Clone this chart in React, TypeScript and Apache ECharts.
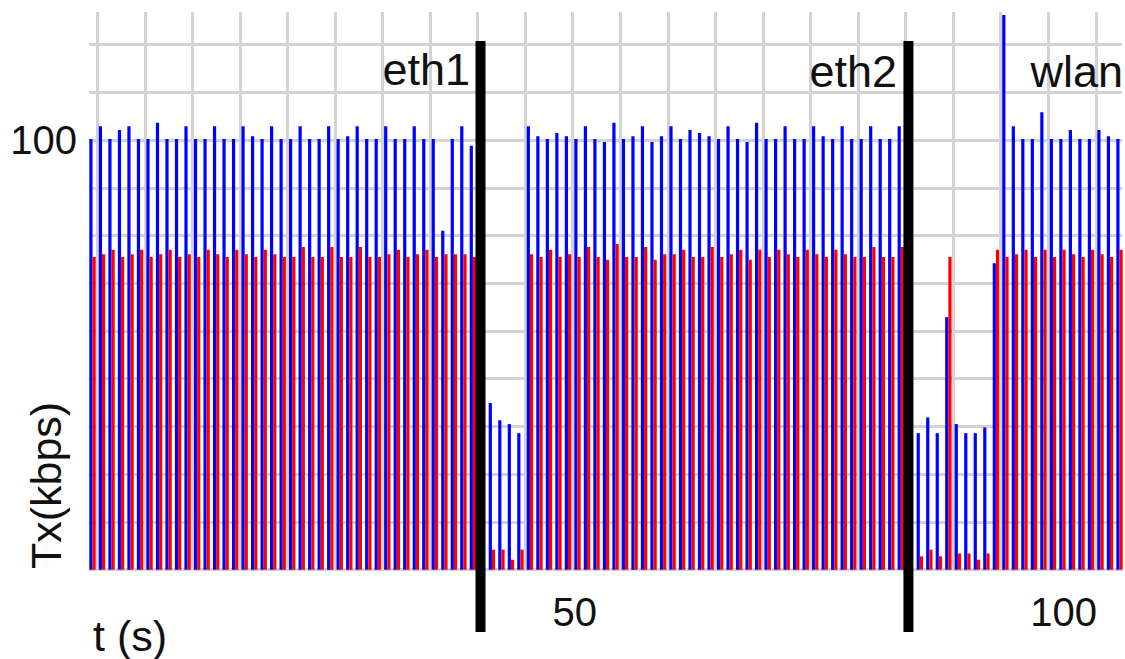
import React, { useEffect, useRef } from 'react';
import * as echarts from 'echarts';

// time (s) of each sample
const TIMES = [
  -0.5, 0.5, 1.5, 2.5, 3.5, 4.5, 5.5, 6.5, 7.5, 8.5, 9.5, 10.5, 11.5, 12.5, 13.5, 14.5, 15.5, 16.5, 17.5, 18.5,
  19.5, 20.5, 21.5, 22.5, 23.5, 24.5, 25.5, 26.5, 27.5, 28.5, 29.5, 30.5, 31.5, 32.5, 33.5, 34.5, 35.5, 36.5, 37.5, 38.5,
  39.5, 41.5, 42.5, 43.5, 44.5, 45.5, 46.5, 47.5, 48.5, 49.5, 50.5, 51.5, 52.5, 53.5, 54.5, 55.5, 56.5, 57.5, 58.5, 59.5,
  60.5, 61.5, 62.5, 63.5, 64.5, 65.5, 66.5, 67.5, 68.5, 69.5, 70.5, 71.5, 72.5, 73.5, 74.5, 75.5, 76.5, 77.5, 78.5, 79.5,
  80.5, 81.5, 82.5, 83.5, 84.5, 86.5, 87.5, 88.5, 89.5, 90.5, 91.5, 92.5, 93.5, 94.5, 95.5, 96.5, 97.5, 98.5, 99.5, 100.5,
  101.5, 102.5, 103.5, 104.5, 105.5, 106.5, 107.5,
];

// blue series (kbps)
const TX_BLUE = [
  100.2, 102.9, 100.2, 102.1, 102.9, 100.2, 100.2, 103.6, 100.2, 100.2, 102.9, 100.2, 100.2, 102.9, 100.2, 100.2, 102.9, 100.8, 100.2, 102.9,
  100.2, 100.2, 102.9, 100.2, 100.2, 102.9, 100.2, 100.8, 102.9, 100.2, 100.2, 102.9, 100.2, 100.2, 102.9, 100.2, 100.2, 81.0, 100.2, 102.9,
  98.8, 44.9, 41.3, 40.5, 38.6, 102.9, 100.8, 100.2, 101.5, 100.8, 100.2, 102.9, 100.2, 99.6, 103.6, 100.2, 100.8, 102.9, 99.6, 100.8,
  102.9, 100.2, 102.1, 101.5, 100.8, 100.2, 102.9, 100.2, 99.6, 103.6, 100.2, 100.2, 102.9, 100.2, 100.2, 102.9, 100.8, 100.2, 102.9, 100.2,
  100.2, 102.9, 100.2, 100.2, 102.9, 38.6, 41.9, 38.6, 62.9, 40.5, 38.6, 38.6, 39.8, 74.2, 126.2, 102.9, 100.2, 100.2, 105.8, 100.2,
  100.2, 102.1, 100.2, 100.2, 102.1, 100.8, 100.2,
];

// red series (kbps)
const TX_RED = [
  75.5, 76.1, 77.0, 75.5, 76.1, 77.0, 75.5, 76.1, 77.0, 75.5, 76.1, 75.5, 77.0, 76.1, 75.5, 77.0, 76.1, 75.5, 77.0, 76.1,
  75.5, 75.5, 77.6, 75.5, 75.5, 77.6, 75.5, 75.5, 77.6, 75.5, 75.5, 76.1, 77.0, 75.5, 76.1, 77.0, 75.5, 76.1, 76.1, 76.1,
  75.5, 14.2, 14.2, 12.1, 14.2, 76.1, 75.5, 77.0, 75.5, 76.1, 75.5, 77.6, 75.5, 74.9, 78.2, 75.5, 75.5, 77.6, 74.9, 76.1,
  76.1, 77.0, 75.5, 75.5, 77.6, 75.5, 76.1, 77.0, 74.9, 77.0, 75.5, 77.0, 76.1, 75.5, 77.0, 76.1, 75.5, 77.0, 76.1, 75.5,
  75.5, 77.6, 75.5, 75.5, 77.6, 12.8, 14.2, 12.8, 75.5, 13.4, 13.4, 12.1, 13.4, 77.0, 75.5, 76.1, 77.0, 75.5, 77.0, 75.5,
  77.0, 76.1, 75.5, 77.0, 76.1, 75.5, 77.0,
];

// interface switch times (s) and segment names
const SEPARATOR_TIMES = [40.3, 85.3];
const SEGMENT_NAMES = ['eth1', 'eth2', 'wlan'];
const X_TICK_LABELS = [50, 100];
const Y_TICK_LABELS = [100];

const FONT = 'Liberation Sans';
const TEXT_COLOR = '#111';

export default function App() {
  const ref = useRef<HTMLDivElement>(null);

  useEffect(() => {
    if (!ref.current) return;
    const chart = echarts.init(ref.current, null, { renderer: 'svg' });

    const blueData = TIMES.map((t, i) => [t, TX_BLUE[i]]);
    const redData = TIMES.map((t, i) => [t, TX_RED[i]]);
    const sepData = SEPARATOR_TIMES.map((t) => [t, 120.75, -3.05]);

    const near = (a: number, b: number) => Math.abs(a - b) < 1e-6;

    const option: any = {
      animation: false,
      backgroundColor: '#ffffff',
      grid: { left: 89, right: 0, top: 12, bottom: 89.3, containLabel: false },
      xAxis: {
        type: 'value',
        min: -0.87,
        max: 107.76,
        minInterval: 5,
        maxInterval: 5,
        axisLine: { show: false },
        axisTick: { show: false },
        splitLine: {
          show: true,
          showMinLine: false,
          showMaxLine: false,
          lineStyle: { color: '#d3d3d3', width: 3 },
        },
        axisLabel: {
          margin: 22,
          formatter: (v: number) => {
            if (near(v, X_TICK_LABELS[0])) return '{a|' + X_TICK_LABELS[0] + '}';
            if (near(v, X_TICK_LABELS[1])) return '{b|' + X_TICK_LABELS[1] + '}';
            return '';
          },
          rich: {
            a: { fontFamily: FONT, fontSize: 40, color: TEXT_COLOR, padding: [0, 0, 0, 4] },
            b: { fontFamily: FONT, fontSize: 40, color: TEXT_COLOR, padding: [0, 0, 0, 31] },
          },
          fontFamily: FONT,
          fontSize: 40,
          color: TEXT_COLOR,
        },
      },
      yAxis: {
        type: 'value',
        min: 10,
        max: 126.82,
        minInterval: 10,
        maxInterval: 10,
        axisLine: { show: false },
        axisTick: { show: false },
        splitLine: {
          show: true,
          showMaxLine: false,
          lineStyle: { color: '#d3d3d3', width: 3 },
        },
        axisLabel: {
          margin: 12,
          fontFamily: FONT,
          fontSize: 40,
          color: TEXT_COLOR,
          formatter: (v: number) => (Y_TICK_LABELS.some((y) => near(v, y)) ? String(Math.round(v)) : ''),
        },
      },
      series: [
        {
          name: 'blue',
          type: 'bar',
          data: blueData,
          barWidth: 3.2,
          barGap: '0%',
          itemStyle: { color: '#0000ff' },
          clip: true,
          z: 2,
        },
        {
          name: 'red',
          type: 'bar',
          data: redData,
          barWidth: 3.2,
          barGap: '0%',
          itemStyle: { color: '#ff0000' },
          clip: true,
          z: 2,
        },
        {
          name: 'switch',
          type: 'custom',
          clip: false,
          z: 5,
          data: sepData,
          encode: { x: 0, y: [1, 2] },
          renderItem: (params: any, api: any) => {
            const t = api.value(0);
            const top = api.coord([t, api.value(1)]);
            const bot = api.coord([t, api.value(2)]);
            return {
              type: 'rect',
              shape: { x: top[0] - 5, y: top[1], width: 10, height: bot[1] - top[1] },
              style: { fill: '#000000' },
            };
          },
        },
      ],
      graphic: [
        {
          type: 'text',
          x: 470,
          y: 69.4,
          style: { text: SEGMENT_NAMES[0], fontFamily: FONT, fontSize: 45, fill: TEXT_COLOR, textAlign: 'right', textVerticalAlign: 'middle' },
          z: 10,
        },
        {
          type: 'text',
          x: 897,
          y: 71.7,
          style: { text: SEGMENT_NAMES[1], fontFamily: FONT, fontSize: 45, fill: TEXT_COLOR, textAlign: 'right', textVerticalAlign: 'middle' },
          z: 10,
        },
        {
          type: 'text',
          x: 1123,
          y: 71.7,
          style: { text: SEGMENT_NAMES[2], fontFamily: FONT, fontSize: 45, fill: TEXT_COLOR, textAlign: 'right', textVerticalAlign: 'middle' },
          z: 10,
        },
        {
          type: 'text',
          x: 93,
          y: 636,
          style: { text: 't (s)', fontFamily: FONT, fontSize: 43, fill: TEXT_COLOR, textAlign: 'left', textVerticalAlign: 'middle' },
          z: 10,
        },
        {
          type: 'text',
          x: 45.7,
          y: 485.5,
          rotation: Math.PI / 2,
          style: { text: 'Tx(kbps)', fontFamily: FONT, fontSize: 43, fill: TEXT_COLOR, textAlign: 'center', textVerticalAlign: 'middle' },
          z: 10,
        },
      ],
    };

    chart.setOption(option);
    return () => {
      chart.dispose();
    };
  }, []);

  return (
    <div
      ref={ref}
      style={{ position: 'fixed', left: 0, top: 0, width: 1125, height: 659, background: '#fff' }}
    />
  );
}
